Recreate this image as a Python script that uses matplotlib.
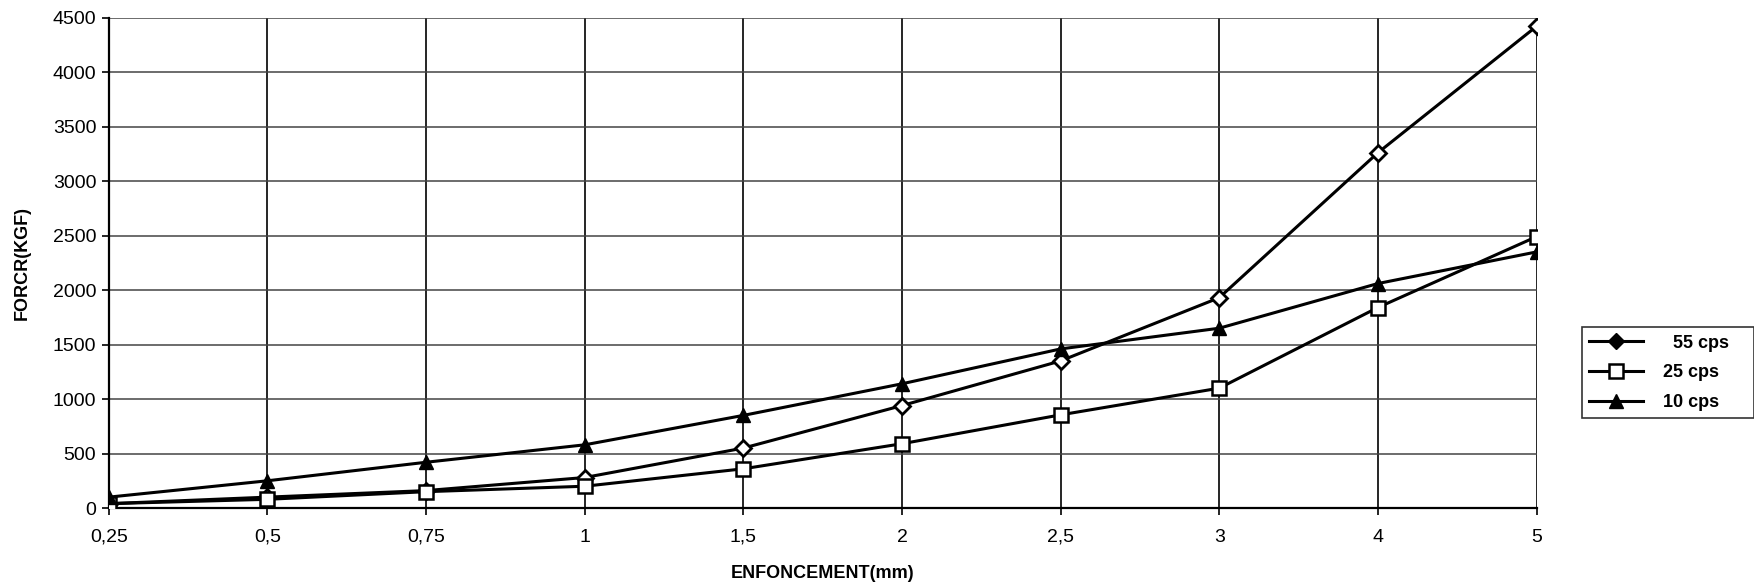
import matplotlib
matplotlib.use("Agg")
import matplotlib.pyplot as plt
from matplotlib.lines import Line2D

plt.rcParams['font.family'] = ['Liberation Sans', 'DejaVu Sans']

# enfoncement categories (mm), equally spaced on the axis
categories = ['0,25', '0,5', '0,75', '1', '1,5', '2', '2,5', '3', '4', '5']
force_55 = [40, 100, 160, 280, 550, 940, 1350, 1930, 3260, 4420]
force_25 = [40, 80, 150, 200, 360, 590, 855, 1100, 1840, 2490]
force_10 = [100, 250, 420, 580, 850, 1140, 1460, 1650, 2060, 2350]
labels = ['  55 cps', '25 cps', '10 cps']

def main():
	fig = plt.figure(figsize=(17.54, 5.88), dpi=100)
	ax = fig.add_axes([0.062, 0.136, 0.814, 0.834])
	x = list(range(len(categories)))

	ax.plot(x, force_55, color='black', lw=2.2, marker='D', ms=8,
		mfc='white', mec='black', mew=2.0, zorder=3)
	ax.plot(x, force_25, color='black', lw=2.2, marker='s', ms=10,
		mfc='white', mec='black', mew=1.8, zorder=3)
	ax.plot(x, force_10, color='black', lw=2.2, marker='^', ms=10,
		mfc='black', mec='black', zorder=3)

	ax.set_xlim(0, len(categories) - 1)
	ax.set_ylim(0, 4500)
	ax.set_xticks(x)
	ax.set_xticklabels(categories)
	ax.set_yticks(range(0, 4501, 500))
	ax.tick_params(axis='both', length=5, width=1.2, direction='out',
		labelsize=14, pad=4)
	ax.tick_params(axis='x', pad=10)

	# grid: dark verticals at every category, grey horizontals
	for xi in x:
		ax.axvline(xi, color='black', lw=1.2, zorder=1)
	for yv in range(500, 4501, 500):
		ax.axhline(yv, color='#444444', lw=1.1, zorder=1)
	for side in ['top', 'right']:
		ax.spines[side].set_visible(False)
	ax.spines['left'].set_linewidth(1.6)
	ax.spines['bottom'].set_linewidth(1.6)

	ax.set_xlabel('ENFONCEMENT(mm)', fontsize=13, fontweight='bold', labelpad=14)
	ax.set_ylabel('FORCR(KGF)', fontsize=13, fontweight='bold', labelpad=16)

	handles = [
		Line2D([], [], color='black', lw=2.2, marker='D', ms=8, mfc='black', mec='black'),
		Line2D([], [], color='black', lw=2.2, marker='s', ms=10, mfc='white', mec='black', mew=1.8),
		Line2D([], [], color='black', lw=2.2, marker='^', ms=10, mfc='black', mec='black'),
	]
	leg = fig.legend(handles, labels, loc='center left',
		bbox_to_anchor=(0.902, 0.286, 0.098, 0.16), mode='expand',
		prop={'weight': 'bold', 'size': 13},
		frameon=True, fancybox=False, edgecolor='black',
		handlelength=3.0, handletextpad=1.1, borderaxespad=0,
		labelspacing=0.7, borderpad=0.4)
	leg.get_frame().set_linewidth(1.2)

	fig.savefig('out.png', dpi=100)

if __name__ == '__main__':
	main()
